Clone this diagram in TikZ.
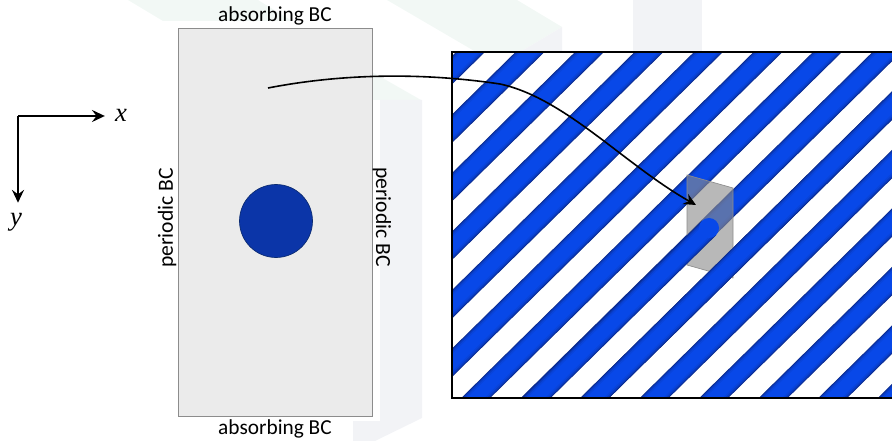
\documentclass[tikz,border=0pt]{standalone}
\usepackage{fontspec}
\setmainfont{Carlito}
\newfontfamily\axisfont{Liberation Serif}
\usetikzlibrary{positioning,arrows.meta}
\definecolor{markgreen}{HTML}{F2F8F5}
\definecolor{markgray}{HTML}{F2F3F6}
\definecolor{domainfill}{HTML}{EBEBEB}
\definecolor{domainedge}{HTML}{8C8C8C}
\definecolor{diskfill}{HTML}{0B35A8}
\definecolor{diskedge}{HTML}{0A2A70}
\definecolor{rodedge}{HTML}{0A1E6A}
\definecolor{rodcore}{HTML}{0848E8}
\definecolor{slicefill}{HTML}{8C8C8C}
\def\rodlayers{15.2/25, 14.4/50, 13.2/72, 11.4/90, 9/100}
\begin{document}
\begin{tikzpicture}[
  x=0.75pt, y=-0.75pt,
  font=\fontsize{16pt}{18pt}\selectfont,
  domainbox/.style={draw=domainedge, line width=0.7pt, fill=domainfill, minimum width=145.5pt, minimum height=291pt, inner sep=0pt},
  disk/.style={circle, draw=diskedge, line width=0.5pt, fill=diskfill, minimum size=54.75pt, inner sep=0pt},
  lbl/.style={text=black, inner sep=0pt},
  sidelbl/.style={lbl, font=\fontsize{16.2pt}{18pt}\selectfont},
  axislbl/.style={font=\axisfont\itshape\fontsize{20pt}{22pt}\selectfont, inner sep=7.5pt},
  axisarr/.style={-{Stealth[length=3.4mm, width=3.2mm, inset=1.2mm]}, line width=1.1pt, draw=black},
  maparr/.style={-{Stealth[length=3.2mm, width=3mm, inset=1.1mm]}, line width=1.2pt, draw=black},
  slice/.style={fill=slicefill, fill opacity=0.62, draw=slicefill, line width=0.5pt},
  frameline/.style={draw=black, line width=2.2pt},
]
\useasboundingbox (0,0) rectangle (892,441);
\fill[markgreen] (128,0) -- (163,21) -- (292,21) -- (258,0) -- cycle;
\fill[markgreen] (387,0) -- (476,52) -- (520,52) -- (562,27) -- (517,0) -- cycle;
\fill[markgray] (520,52) -- (562,27) -- (562,52) -- cycle;
\fill[markgray] (633,0) rectangle (702,52);
\fill[markgreen] (372,72) -- (421,100) -- (380,100) -- (372,100) -- cycle;
\fill[markgray] (380,100) -- (422,100) -- (422,418) -- (375,441) -- (353,441) -- (353,421) -- (380,421) -- cycle;
\node[domainbox] (domain) at (275,222) {};
\node[disk] (disk) at (276,221) {};
\node[lbl, above=1.5pt of domain] (absorbtop) {absorbing BC};
\node[lbl, below=2.5pt of domain] (absorbbot) {absorbing BC};
\node[sidelbl, rotate=90] (periodicleft) at (167,218) {periodic BC};
\node[sidelbl, rotate=-90] (periodicright) at (382,217) {periodic BC};
\begin{scope}
\clip (452,52) rectangle (892,398);
\foreach \k in {-6,...,14} {
  \pgfmathsetmacro{\c}{470.5+59.5*\k}
  \foreach \wd/\p in \rodlayers
    \draw[draw=rodcore!\p!rodedge, line width=\wd pt] (\c+12.2,40) -- (\c-364,410);
}
\end{scope}
\draw[slice] (687,175) -- (733,188) -- (733,278) -- (687,265) -- cycle;
\begin{scope}
\clip (452,52) rectangle (892,398);
\foreach \wd/\p in \rodlayers
  \draw[draw=rodcore!\p!rodedge, line width=\wd pt, line cap=butt] (709,228) -- (524,410);
\fill[rodcore] (709,228) circle[radius=10];
\foreach \wd/\p in \rodlayers
  \draw[draw=rodcore!\p!rodedge, line width=\wd pt] (958.7,40) -- (582.5,410);
\end{scope}
\draw[frameline] (893,52) -- (452,52) -- (452,398) -- (893,398);
\coordinate (origin) at (18,116);
\node[axislbl] (xlabel) at (121,115) {x};
\node[axislbl] (ylabel) at (16,222) {y};
\draw[axisarr] (origin) -- (xlabel.west |- origin);
\draw[axisarr] (origin) -- (origin |- ylabel.north);
\coordinate (mapstart) at (268,88);
\coordinate (mapend) at (696,205);
\draw[maparr] (mapstart) .. controls (340,74) and (420,72) .. (500,84) .. controls (565,98) and (625,165) .. (mapend);
\end{tikzpicture}
\end{document}
